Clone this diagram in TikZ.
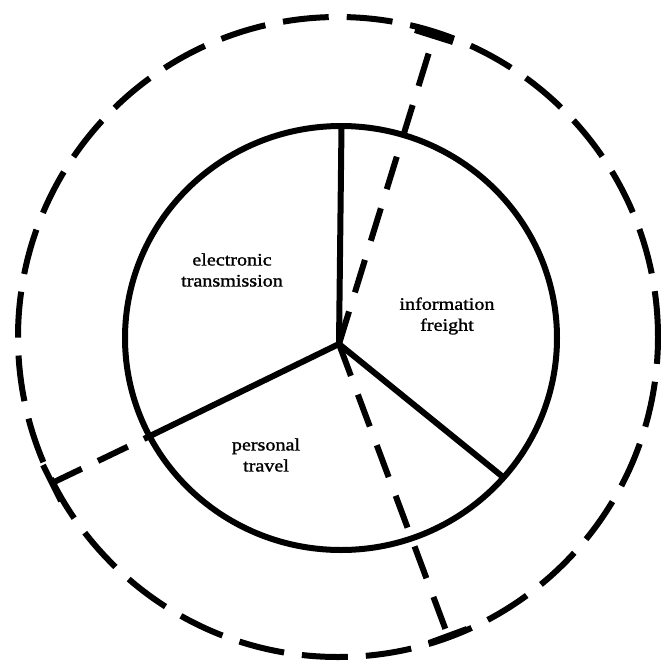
\documentclass[tikz,border=0pt]{standalone}
\usepackage{fontspec}
\setmainfont{Liberation Serif}
\newfontfamily\lblfont[FakeBold=1.2]{Liberation Serif}
\newcommand{\wlbl}[1]{\scalebox{1.15}[1]{#1}}
\begin{document}
\begin{tikzpicture}[x=1pt,y=-1pt,
  solidline/.style={line width=6pt,line cap=round,line join=round},
  dashline/.style={line width=6pt,dash pattern=on 34pt off 20pt},
  tbar/.style={line width=6pt},
  lbl/.style={font=\lblfont\fontsize{17.5}{21}\selectfont,align=center,inner sep=0pt}]
\useasboundingbox (0,0) rectangle (661,662);
% centres
\coordinate (O) at (341,338);
\coordinate (OC) at (338,337);
\coordinate (C) at (339,344);
% spoke ends on the inner circle
\coordinate (Sup) at (341.5,126);
\coordinate (Sleft) at (150,436);
\coordinate (Sright) at (503,477);
% ends of the dashed lines on the outer circle
\coordinate (Ttop) at (434,36);
\coordinate (Tbot) at (448,636);
\coordinate (Tleft) at (52,483);
% T bars
\coordinate (TtopA) at (415,30);
\coordinate (TtopB) at (453,42);
\coordinate (TbotA) at (429,643);
\coordinate (TbotB) at (467,629);
\coordinate (TleftA) at (43,465);
\coordinate (TleftB) at (61,501);

% outer dashed circle
\draw[line width=6pt,dash pattern=on 46pt off 18pt] (OC) circle [radius=320pt];
% inner circle
\draw[solidline] (O) ellipse [x radius=216pt, y radius=212pt];
% spokes
\draw[solidline] (C) -- (Sup);
\draw[solidline] (C) -- (Sleft);
\draw[solidline] (C) -- (Sright);
% dashed dividers
\draw[dashline] (C) -- (Ttop);
\draw[dashline] (C) -- (Tbot);
\draw[line width=6pt,dash pattern=on 33pt off 18pt] (Tleft) -- (Sleft);
% T bars
\draw[tbar] (TtopA) -- (TtopB);
\draw[tbar] (TbotA) -- (TbotB);
\draw[tbar] (TleftA) -- (TleftB);
% labels
\node[lbl] (et) at (232,270) {\wlbl{electronic}\\\wlbl{transmission}};
\node[lbl] (inf) at (447,316) {\wlbl{information}\\\wlbl{freight}};
\node[lbl] (pt) at (266,455) {\wlbl{personal}\\\wlbl{travel}};
\end{tikzpicture}
\end{document}
